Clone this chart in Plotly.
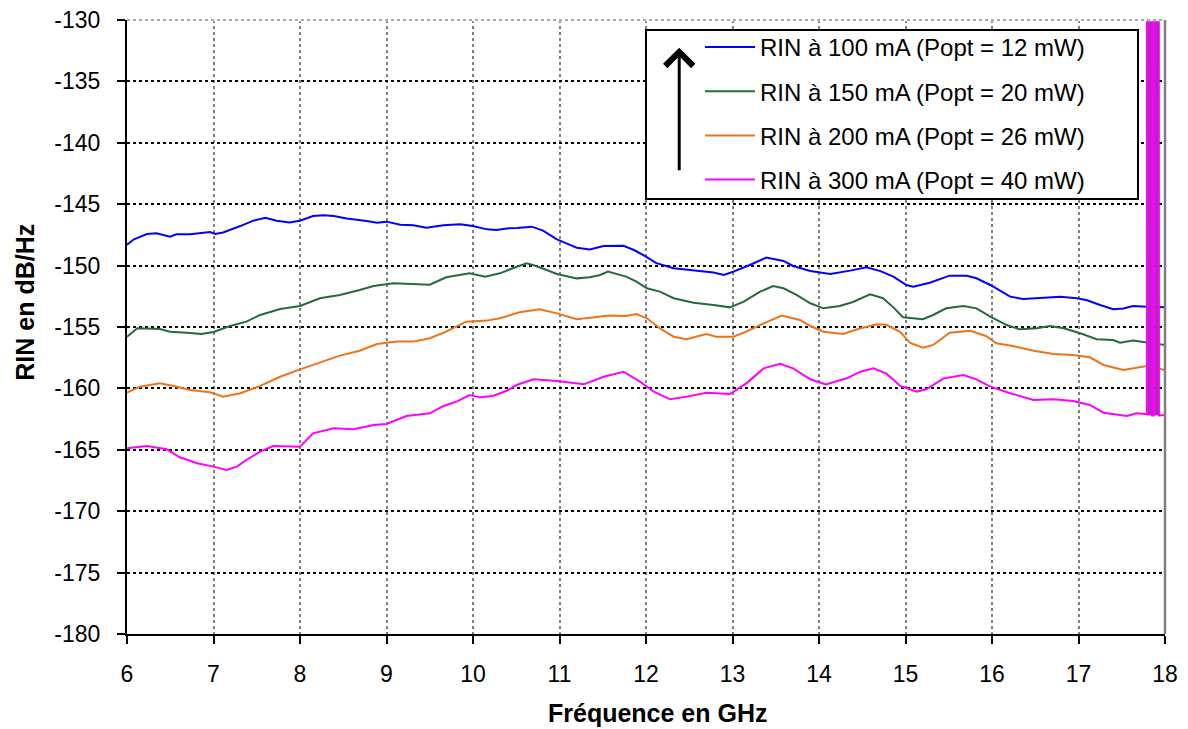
import plotly.graph_objects as go

# ---------------- data ----------------
freq_100 = [6.00, 6.08, 6.23, 6.34, 6.50, 6.57, 6.73, 6.96, 7.02, 7.11, 7.31, 7.46, 7.60, 7.73, 7.88,
            8.00, 8.15, 8.27, 8.39, 8.54, 8.77, 8.89, 9.00, 9.16, 9.31, 9.46, 9.66, 9.85, 10.00,
            10.16, 10.27, 10.39, 10.51, 10.68, 10.81, 10.97, 11.08, 11.20, 11.35, 11.51, 11.74,
            11.86, 11.97, 12.12, 12.32, 12.55, 12.78, 12.90, 13.01, 13.20, 13.39, 13.59, 13.70,
            13.90, 14.13, 14.36, 14.55, 14.71, 14.86, 15.01, 15.09, 15.28, 15.51, 15.71, 15.82,
            15.98, 16.21, 16.36, 16.55, 16.79, 16.98, 17.09, 17.25, 17.40, 17.52, 17.63, 17.79, 18.00]
rin_100 = [-148.30, -147.86, -147.43, -147.37, -147.64, -147.45, -147.45, -147.26, -147.43, -147.30,
           -146.78, -146.34, -146.10, -146.34, -146.48, -146.34, -145.96, -145.90, -145.96, -146.17,
           -146.37, -146.50, -146.42, -146.67, -146.72, -146.91, -146.72, -146.64, -146.78, -147.05,
           -147.10, -146.97, -146.94, -146.83, -147.15, -147.86, -148.19, -148.54, -148.68, -148.40,
           -148.38, -148.73, -149.14, -149.80, -150.22, -150.41, -150.57, -150.76, -150.49, -149.95,
           -149.35, -149.62, -150.03, -150.44, -150.68, -150.41, -150.14, -150.45, -150.90, -151.58,
           -151.71, -151.39, -150.82, -150.82, -151.03, -151.58, -152.53, -152.72, -152.61, -152.53,
           -152.66, -152.80, -153.21, -153.56, -153.50, -153.30, -153.35, -153.40]

freq_150 = [6.00, 6.12, 6.38, 6.50, 6.69, 6.86, 7.00, 7.19, 7.38, 7.54, 7.77, 8.00, 8.23, 8.46, 8.69,
            8.85, 9.08, 9.31, 9.50, 9.69, 9.96, 10.14, 10.31, 10.46, 10.62, 10.73, 10.97, 11.20,
            11.35, 11.47, 11.56, 11.77, 11.89, 12.01, 12.16, 12.32, 12.55, 12.78, 12.97, 13.13,
            13.32, 13.47, 13.59, 13.74, 13.90, 14.05, 14.24, 14.40, 14.59, 14.74, 14.86, 14.97,
            15.20, 15.32, 15.47, 15.67, 15.82, 15.98, 16.17, 16.32, 16.52, 16.67, 16.83, 17.02,
            17.21, 17.40, 17.48, 17.63, 17.79, 18.00]
rin_150 = [-155.79, -155.10, -155.16, -155.38, -155.46, -155.57, -155.40, -154.92, -154.56, -154.02,
           -153.53, -153.29, -152.66, -152.39, -151.99, -151.66, -151.44, -151.50, -151.55, -150.95,
           -150.63, -150.90, -150.63, -150.22, -149.82, -150.03, -150.68, -151.04, -150.95, -150.76,
           -150.49, -150.90, -151.31, -151.85, -152.12, -152.66, -153.02, -153.21, -153.40, -152.94,
           -152.12, -151.66, -151.85, -152.39, -153.07, -153.48, -153.29, -152.94, -152.34, -152.66,
           -153.40, -154.21, -154.37, -154.02, -153.48, -153.29, -153.48, -154.16, -154.84, -155.19,
           -155.10, -154.92, -155.10, -155.51, -156.00, -156.06, -156.28, -156.11, -156.28, -156.47]

freq_200 = [6.00, 6.15, 6.38, 6.54, 6.73, 6.96, 7.11, 7.31, 7.54, 7.77, 8.00, 8.23, 8.46, 8.69, 8.89,
            9.12, 9.31, 9.50, 9.69, 9.92, 10.16, 10.31, 10.54, 10.77, 10.97, 11.20, 11.39, 11.58,
            11.77, 11.89, 12.01, 12.16, 12.32, 12.47, 12.62, 12.70, 12.81, 13.01, 13.16, 13.36,
            13.57, 13.78, 13.90, 14.05, 14.28, 14.48, 14.67, 14.78, 14.94, 15.05, 15.20, 15.32,
            15.51, 15.75, 15.93, 16.05, 16.24, 16.48, 16.71, 16.94, 17.13, 17.29, 17.52, 17.63,
            17.79, 18.00]
rin_200 = [-160.35, -159.86, -159.59, -159.80, -160.13, -160.32, -160.67, -160.40, -159.80, -159.05,
           -158.45, -157.88, -157.33, -156.93, -156.38, -156.19, -156.19, -155.92, -155.38, -154.57,
           -154.48, -154.29, -153.80, -153.56, -153.89, -154.37, -154.21, -154.07, -154.10, -153.94,
           -154.29, -155.10, -155.79, -156.00, -155.71, -155.57, -155.79, -155.79, -155.38, -154.70,
           -154.07, -154.43, -154.92, -155.38, -155.57, -155.10, -154.78, -154.82, -155.42, -156.27,
           -156.68, -156.46, -155.46, -155.30, -155.73, -156.33, -156.55, -156.93, -157.20, -157.28,
           -157.47, -158.09, -158.50, -158.37, -158.18, -158.50]

freq_300 = [6.00, 6.23, 6.46, 6.61, 6.81, 7.00, 7.15, 7.27, 7.38, 7.54, 7.69, 7.85, 8.00, 8.15, 8.39,
            8.62, 8.85, 9.00, 9.23, 9.50, 9.66, 9.81, 9.96, 10.08, 10.23, 10.39, 10.51, 10.70,
            10.97, 11.28, 11.51, 11.74, 11.93, 12.09, 12.28, 12.47, 12.70, 12.97, 13.16, 13.36,
            13.55, 13.70, 13.90, 14.08, 14.32, 14.48, 14.63, 14.78, 14.94, 15.13, 15.24, 15.44,
            15.67, 15.82, 15.98, 16.21, 16.48, 16.71, 16.94, 17.13, 17.29, 17.56, 17.67, 17.79,
            17.792, 17.848, 17.85, 17.87, 17.872, 17.928, 17.93, 18.00]
rin_300 = [-164.88, -164.69, -164.96, -165.61, -166.10, -166.37, -166.65, -166.37, -165.83, -165.15,
           -164.69, -164.69, -164.75, -163.66, -163.25, -163.33, -162.98, -162.90, -162.25, -162.03,
           -161.43, -161.08, -160.54, -160.73, -160.62, -160.19, -159.70, -159.26, -159.40, -159.67,
           -159.05, -158.64, -159.45, -160.27, -160.89, -160.67, -160.35, -160.46, -159.59, -158.37,
           -158.00, -158.37, -159.26, -159.67, -159.18, -158.64, -158.37, -158.80, -159.80, -160.26,
           -160.07, -159.18, -158.91, -159.26, -159.86, -160.40, -160.94, -160.89, -161.02, -161.35,
           -161.98, -162.25, -162.03, -162.09,
           -100.0, -100.0, -162.20, -162.20, -100.0, -100.0, -162.20, -162.17]

# saturated burst at the end of the 300 mA trace (two bands)
burst_freq = [17.796, 17.844, 17.844, 17.796, None, 17.876, 17.924, 17.924, 17.876]
burst_rin = [-162.2, -162.2, -100.0, -100.0, None, -162.2, -162.2, -100.0, -100.0]

series_names = ["RIN à 100 mA (Popt = 12 mW)", "RIN à 150 mA (Popt = 20 mW)",
                "RIN à 200 mA (Popt = 26 mW)", "RIN à 300 mA (Popt = 40 mW)"]
series_colors = ["#0000FF", "#236B3E", "#EE7318", "#FF00FF"]

x_ticks = list(range(6, 19))
y_ticks = list(range(-180, -129, 5))

FONT = "Liberation Sans, Arial, sans-serif"

fig = go.Figure()

data = [(freq_100, rin_100), (freq_150, rin_150), (freq_200, rin_200), (freq_300, rin_300)]
for i, ((fx, fy), name, col) in enumerate(zip(data, series_names, series_colors)):
    fig.add_trace(go.Scatter(x=fx, y=fy, mode="lines", name=name,
                             line=dict(color=col, width=2), legendgroup=f"g{i}"))

fig.add_trace(go.Scatter(x=burst_freq, y=burst_rin, mode="lines", fill="toself",
                         fillcolor="#C020C8", line=dict(width=0),
                         showlegend=False, hoverinfo="skip"))

fig.update_layout(
    width=1188, height=729,
    margin=dict(l=127, r=23, t=20, b=95, autoexpand=False),
    paper_bgcolor="white", plot_bgcolor="white",
    font=dict(family=FONT, size=23, color="black"),
    showlegend=True,
    legend=dict(x=0.552, y=0.992, xanchor="left", yanchor="top",
                bgcolor="rgba(0,0,0,0)", borderwidth=0,
                font=dict(family=FONT, size=24, color="black"),
                itemwidth=50, tracegroupgap=10, traceorder="grouped"),
    xaxis=dict(range=[6, 18], tickvals=x_ticks, ticktext=[str(v) for v in x_ticks],
               showgrid=True, gridcolor="#808080", gridwidth=1.5, griddash="dot",
               showline=True, linecolor="black", linewidth=2,
               ticks="outside", ticklen=8, tickwidth=2, tickcolor="black",
               ticklabelstandoff=10, zeroline=False, automargin=False,
               tickfont=dict(family=FONT, size=23)),
    yaxis=dict(range=[-180, -130], tickvals=y_ticks, ticktext=[str(v) for v in y_ticks],
               showgrid=True, gridcolor="black", gridwidth=1.5, griddash="dot",
               showline=True, linecolor="black", linewidth=2,
               ticks="outside", ticklen=8, tickwidth=2, tickcolor="black",
               ticklabelstandoff=12, zeroline=False, automargin=False,
               tickfont=dict(family=FONT, size=23)),
    shapes=[
        dict(type="line", xref="paper", yref="paper", x0=0, x1=1, y0=1, y1=1,
             line=dict(color="white", width=2.5), layer="above"),
        dict(type="line", xref="paper", yref="paper", x0=0, x1=1, y0=1, y1=1,
             line=dict(color="#909090", width=1.5, dash="dot"), layer="above"),
        dict(type="rect", xref="paper", yref="paper", x0=0.5, x1=0.974, y0=0.7085, y1=0.9837,
             fillcolor="white", line=dict(color="black", width=2), layer="above"),
        dict(type="line", xref="paper", yref="paper", x0=1, x1=1, y0=0, y1=1,
             line=dict(color="#808080", width=2.5), layer="above"),
    ],
    annotations=[
        dict(text="<b>Fréquence en GHz</b>", xref="paper", yref="paper", x=0.512, y=-0.128,
             xanchor="center", yanchor="middle", showarrow=False,
             font=dict(family=FONT, size=25)),
        dict(text="<b>RIN en dB/Hz</b>", xref="paper", yref="paper", x=-0.098, y=0.54,
             xanchor="center", yanchor="middle", showarrow=False, textangle=-90,
             font=dict(family=FONT, size=25)),
        dict(text="", xref="paper", yref="paper", x=0.532, y=0.955, ax=0, ay=124,
             showarrow=True, arrowhead=4, arrowsize=1.8, arrowwidth=3, arrowcolor="black"),
    ],
)

fig.write_html("out.html")
